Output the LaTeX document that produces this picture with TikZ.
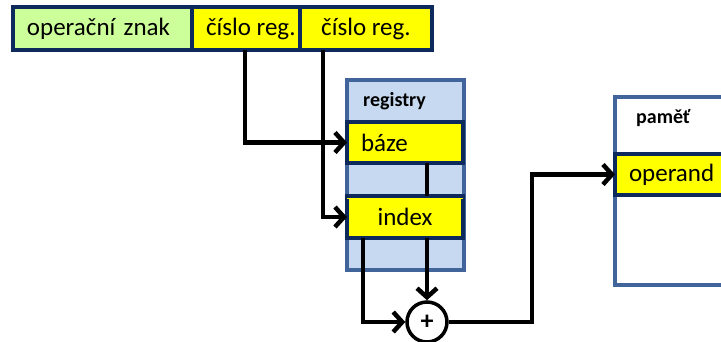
\documentclass[tikz,border=0pt]{standalone}
\usepackage{fontspec}
\setmainfont{Carlito}
\usetikzlibrary{arrows.meta, positioning, calc}
\definecolor{inkframe}{HTML}{0E2A5C}
\definecolor{inkshell}{HTML}{41659A}
\definecolor{fillshell}{HTML}{C6D9F0}
\definecolor{fillcode}{HTML}{CCFF99}
\definecolor{fillreg}{HTML}{FFFF00}
\tikzset{
  cell/.style={draw=inkframe, line width=4pt, anchor=north west,
        inner xsep=14pt, inner ysep=0pt, outer sep=0pt, text=black,
        font=\fontsize{25}{30}\selectfont},
  shell/.style={draw=inkshell, line width=3.5pt, anchor=north west,
        inner sep=0pt, outer sep=0pt},
  title/.style={anchor=base west, inner sep=0pt,
        font=\fontsize{20}{24}\selectfont\bfseries},
  link/.style={draw=black, line width=4.5pt,
        -{Straight Barb[length=9pt, width=20pt]}},
  wire/.style={draw=black, line width=4.5pt}
}
% [extra options], name, fill, top left corner, width, height, text
\newcommand{\cellbox}[7][]{%
  \node[cell, fill=#3, minimum width=#5pt, minimum height=#6pt, #1]
    (#2) at (#4) {#7};}

\begin{document}
\begin{tikzpicture}[x=1pt, y=-1pt]
  \useasboundingbox (0,0) rectangle (721,341);
  \clip (0,0) rectangle (721,341);

  % instruction word
  \cellbox[text width=151pt, align=left, inner xsep=12pt]{opcode}{fillcode}{13,7}{179}{43}{operační znak}
  \cellbox{regA}{fillreg}{192,7}{108}{43}{číslo reg.}
  \cellbox{regB}{fillreg}{300,7}{132}{43}{číslo reg.}

  % register file
  \node[shell, fill=fillshell, minimum width=117pt, minimum height=190pt]
    (regs) at (347,80) {};
  \node[title] (regstitle) at (363,106) {registry};
  \cellbox[text width=88pt, align=left]{base}{fillreg}{347,122}{116}{41}{báze}
  \cellbox{idx}{fillreg}{347,196}{116}{42}{index}
  \draw[fillreg, line width=1.2pt]
    ([yshift=-2.5pt]idx.north west) -- ([yshift=-2.5pt]idx.north east);

  % memory
  \node[shell, fill=white, minimum width=150pt, minimum height=188pt]
    (mem) at (615,97) {};
  \node[title] (memtitle) at (636,123) {paměť};
  \cellbox[text width=122pt, align=left, inner xsep=12pt]{operand}{fillreg}{615,154}{150}{41}{operand}

  % adder
  \node[draw=black, line width=3.5pt, circle, fill=white, minimum size=40pt,
        inner sep=0pt, font=\fontsize{26}{28}\selectfont\bfseries]
    (sum) at (427,322) {+};

  % connections
  \draw[link] ([xshift=-6pt]regA.south) |- (base.west);
  \draw[link] ([xshift=-43pt]regB.south) |- (idx.west);
  \draw[wire] ([xshift=22pt]base.south) -- ([xshift=22pt]idx.north);
  \draw[link] ([xshift=22pt]idx.south) -- (sum.north);
  \draw[link] ([xshift=-42pt]idx.south) |- (sum.west);
  \draw[link] (sum.east) -| ($(sum.east)!.5!(operand.west)$) |- (operand.west);
\end{tikzpicture}
\end{document}
